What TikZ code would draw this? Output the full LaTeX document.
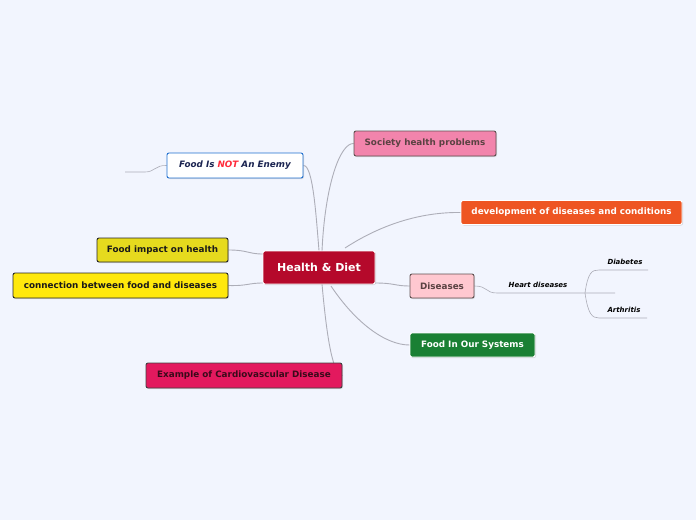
\documentclass[tikz,border=0pt]{standalone}
\usepackage{fontspec}
\setmainfont{DejaVu Sans}
\usetikzlibrary{shadows,calc}
\pgfdeclarelayer{bgfill}
\pgfdeclarelayer{lines}
\pgfsetlayers{bgfill,lines,main}
\definecolor{bg}{HTML}{F2F5FE}
\definecolor{conn}{HTML}{ADAEB8}
\definecolor{centerc}{HTML}{B5092B}
\definecolor{blueb}{HTML}{1F6FD0}
\definecolor{navy}{HTML}{1A2350}
\definecolor{notred}{HTML}{FF2A3A}
\definecolor{pinkc}{HTML}{F284AC}
\definecolor{pinktxt}{HTML}{5A4242}
\definecolor{pinkbd}{HTML}{5F4F4F}
\definecolor{orangec}{HTML}{EE5522}
\definecolor{yellowa}{HTML}{E6DA1E}
\definecolor{yellowb}{HTML}{FFE80C}
\definecolor{lpink}{HTML}{FFC8D0}
\definecolor{greenc}{HTML}{1A8034}
\definecolor{magc}{HTML}{E3195E}
\definecolor{magtxt}{HTML}{3A0A1A}
\begin{document}
\begin{tikzpicture}[x=1pt,y=-1pt,
  topic/.style={draw, rounded corners=2pt, inner sep=0pt, line width=0.9pt,
    font=\fontsize{8.8}{10}\selectfont\bfseries,
    drop shadow={opacity=0.25, shadow xshift=1pt, shadow yshift=-1pt}},
  conn/.style={draw=conn, line width=0.9pt},
  subline/.style={draw=conn, line width=0.6pt},
  sub/.style={font=\fontsize{7}{8}\selectfont\bfseries\itshape, inner sep=1pt}]
\begin{pgfonlayer}{bgfill}
\fill[bg] (0,0) rectangle (696,520);
\end{pgfonlayer}
\useasboundingbox (0,0) rectangle (696,520);

\node[topic, fill=centerc, draw=white, text=white, minimum width=112pt, minimum height=33pt,
  font=\fontsize{11}{13}\selectfont\bfseries] (hd) at (319,267.5) {Health \& Diet};

\node[topic, fill=white, draw=blueb, text=navy, minimum width=136pt, minimum height=25pt,
  font=\fontsize{8.8}{10}\selectfont\bfseries\itshape] (fne) at (235,165.5)
  {Food Is \textcolor{notred}{NOT} An Enemy};
\node[topic, fill=pinkc, draw=pinkbd, text=pinktxt, minimum width=142pt, minimum height=25pt] (shp) at (425,143.5) {Society health problems};
\node[topic, fill=orangec, draw=white, text=white, minimum width=221pt, minimum height=24pt] (dev) at (571.5,212.5) {development of diseases and conditions};
\node[topic, fill=yellowa, draw=black!85, text=black!90, minimum width=131pt, minimum height=24pt] (fih) at (162.5,250) {Food impact on health};
\node[topic, fill=yellowb, draw=black!85, text=black!90, minimum width=215pt, minimum height=25pt] (cbf) at (120.5,285.5) {connection between food and diseases};
\node[topic, fill=lpink, draw=pinkbd, text=pinktxt, minimum width=64pt, minimum height=24pt] (dis) at (442,286) {Diseases};
\node[topic, fill=greenc, draw=white, text=white, minimum width=125pt, minimum height=24pt] (fos) at (472.5,345) {Food In Our Systems};
\node[topic, fill=magc, draw=black!75, text=magtxt, minimum width=196pt, minimum height=25pt] (ecd) at (244,375.5) {Example of Cardiovascular Disease};

\node[sub] (hrt) at (538,285) {Heart diseases};
\node[sub] (dia) at (625,262) {Diabetes};
\node[sub] (art) at (624,310) {Arthritis};

\coordinate (hdN) at (322,251);
\coordinate (hdS) at (322,284);
\coordinate (hrtL) at (497,293);
\coordinate (hrtR) at (575,293);
\coordinate (blank) at (615,293);
\coordinate (diaL) at (599,270);
\coordinate (diaR) at (648,270);
\coordinate (artL) at (599,318);
\coordinate (artR) at (647,318);
\coordinate (fneA) at (145,172);
\coordinate (fneB) at (125,172);

\begin{pgfonlayer}{lines}
\draw[conn] (hdN) .. controls (325,185) and (340,143) .. (shp.west);
\draw[conn] (fne.east) .. controls (313,165) and (316,215) .. (hd.north);
\draw[conn] (345,248) .. controls (385,222) and (425,212) .. (dev.west);
\draw[conn] (fih.east) .. controls (248,250) and (248,254) .. (263,254);
\draw[conn] (cbf.east) .. controls (248,286) and (248,283) .. (263,283);
\draw[conn] (375,283) .. controls (395,283) and (395,286) .. (dis.west);
\draw[conn] (331,286) .. controls (355,322) and (385,345) .. (fos.west);
\draw[conn] (hdS) .. controls (327,340) and (333,375) .. (ecd.east);

\draw[subline] (dis.east) .. controls (488,286) and (485,293) .. (hrtL) -- (hrtR) -- (blank);
\draw[subline] (585,293) .. controls (588,272) and (592,270) .. (diaL) -- (diaR);
\draw[subline] (585,293) .. controls (588,314) and (592,318) .. (artL) -- (artR);
\draw[subline] (fne.west) .. controls (155,165) and (155,172) .. (fneA) -- (fneB);
\end{pgfonlayer}
\end{tikzpicture}
\end{document}
